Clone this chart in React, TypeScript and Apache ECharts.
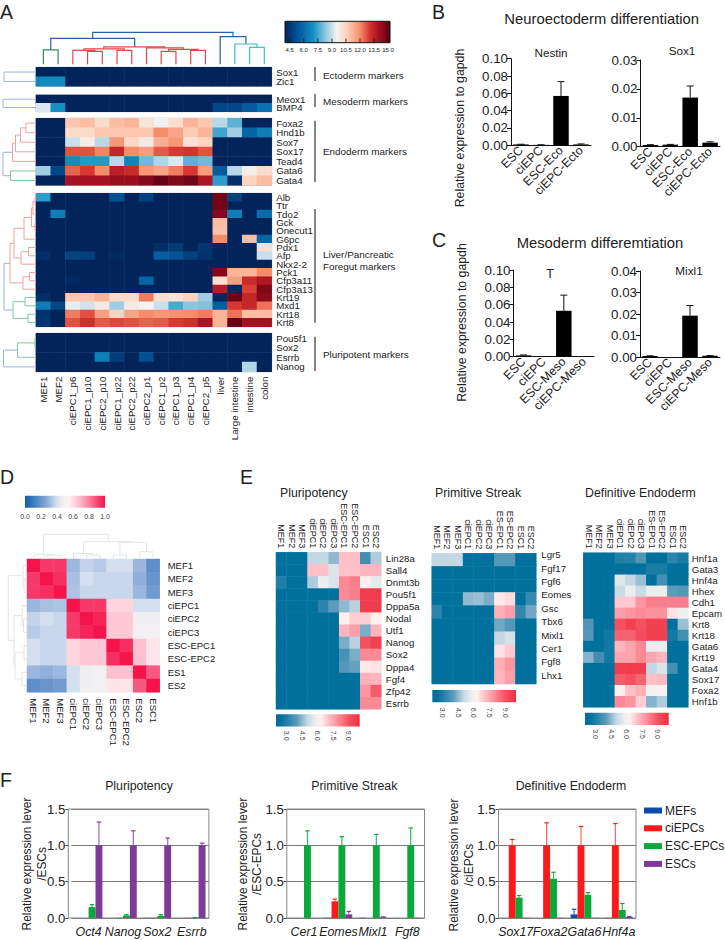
import React, { useEffect, useRef } from "react";
import * as echarts from "echarts";

// ---------- Panel A data ----------
const aColumns = ["MEF1","MEF2","ciEPC1_p6","ciEPC1_p10","ciEPC2_p10","ciEPC1_p22","ciEPC2_p22","ciEPC2_p1","ciEPC1_p2","ciEPC1_p3","ciEPC1_p4","ciEPC2_p5","liver","Large intestine","intestine","colon"];
const aEctoRows = ["Sox1","Zic1"];
const aEctoValues = [
  [4,4,4,4,4,4,4,4,4,4,4,4,4,4,4,4],
  [6.8,6.8,4,4,4,4,4,4,4,4,4,4,4,4,4,4],
];
const aMesoRows = ["Meox1","BMP4"];
const aMesoValues = [
  [4,4,4,4,4,4,4,4,4,4,4,4,4,4,4,4],
  [9.2,7,4,4,4,4,4,4,4,4,4,4,5,5,5.5,6.2],
];
const aEndoRows = ["Foxa2","Hnd1b","Sox7","Sox17","Tead4","Gata6","Gata4"];
const aEndoValues = [
  [4,4,10.8,11,10.3,11,11.2,10,9.5,10.2,11.2,10.8,8.8,7.8,4,4],
  [4,4,10.3,10.3,10.8,10.8,10.8,10.8,12,11.5,10.7,11.2,7.5,8.5,5.8,6.5],
  [4,4,9,9.7,8.8,11.8,10.4,9.8,11.3,11.8,10.1,10.5,4,4,4,4],
  [4,4,12.7,12.7,12.1,13.4,12,11.7,12.6,13,13.1,12.7,4,4,4,4],
  [4,4,6.9,7.2,7.2,8.8,6.7,8,8.7,9.2,7.8,8,4,4,4,4],
  [8.5,5,12.5,13,12,13.6,13.3,11.8,11.5,12.2,13,11.7,5.5,8.8,9.7,10.3],
  [4,4,14,14,14,14.2,14.2,14.5,15,14.6,14.8,13.9,7.3,4.3,10.5,11],
];
const aLiverRows = ["Alb","Ttr","Tdo2","Gck","Onecut1","G6pc","Pdx1","Afp","Nkx2-2","Pck1","Cfp3a11","Cfp3a13","Krt19","Mxd1","Krt18","Krt8"];
const aLiverValues = [
  [7.3,4,4,4,4,5.2,4,4.8,4,4,4,4,14.8,4.8,4,4],
  [4,4,4,4,4,4,4,4,4,4,4,4,14.8,4,4,4],
  [4,6.5,4,4,4,4,4,4,4,4,4,4,14.5,6.5,4,6],
  [4,4,4,4,4,4,4,4,4,4,4,4,11,4,4,4],
  [4,4,4,4,4,4,4,4,4,4,4,4,10.9,4,4,4],
  [4,4,4,4,4,4,4,4,4,4,4,4,12,4,11,5.8],
  [4,4,4,4,4,4,4,4,4.3,4.6,4,4.5,4,4,4,10.2],
  [4.3,4,4.9,4.8,4,4.2,4,4,5.6,5.3,4.8,4.4,4,4,4,9],
  [4,4,4,4,4,4,4,4,4,4,4,4,4,4,4,4],
  [4,4,4,4,4,4,4,4,4,4,4,4,14.5,11.2,11.2,12],
  [4,4,4.2,4,4,4,4,5.8,4,4,4,4,10.2,11.6,13.3,13.8],
  [4,4,4,4,4,4,4,4,4,4,4,4,13.7,4.1,12.9,14.6],
  [4.3,4,10.8,10.8,11.2,10.3,10.3,12.2,10.2,10,10.5,8.5,4.1,14.9,13.4,14.4],
  [6.5,5,9.4,9.1,9.8,8.5,9.8,9.5,9,7.6,8.3,8.2,5.6,13,13.4,12.3],
  [4.4,4,12.2,12.7,11.6,10.5,11.5,12,11.8,11.9,12,12.2,11.2,12.3,11,11],
  [4.5,4,12.7,13.2,12.6,12.8,12.7,12.5,12.6,13,13.2,13.9,11.2,15,14,14],
];
const aPluriRows = ["Pou5f1","Sox2","Esrrb","Nanog"];
const aPluriValues = [
  [4,4,4,4,4,4,4,4,4,4,4,4,4,4,4,4],
  [4,4,4,4,4,4,4,4,4,4,4,4,4,4,4,4],
  [4,4,4,4,6.5,4.7,4,5.2,4,4,4,4,4,4,4,4],
  [4,4,4,4,4,4,4,4,4,4,4,4,4,4,8.7,4],
];
const aColorTicks = [4.5,6,7.5,9,10.5,12,13.5,15];

// dendrogram links: [leg a, leg b, height a, height b, top]
const aTopGreen = [[0.5,1.5,0,0,14.5]];
const aTopRed = [[3.5,4.5,0,0,13],[2.5,4,0,13,14],[5.5,6.5,0,0,14],[3.25,6,14,14,15.5],[8.5,9.5,0,0,13],[10.5,11.5,0,0,14],[9,11,13,14,15],[7.5,10,0,15,16.5],[4.6,8.75,15.5,16.5,17.5]];
const aTopBlue = [[1,6.7,14.5,17.5,26],[12.5,14.25,0,20.3,27.7],[3.85,13.37,26,27.7,32]];
const aTopTeal = [[14.5,15.5,0,0,17],[13.5,15,0,17,20.3]];
const aLeftEcto = [[0.5,1.5,0,0,32]];
const aLeftMeso = [[0.5,1.5,0,0,33]];
const aLeftEndoPink = [[0.5,1.5,0,0,10],[1,2.5,10,0,15.5],[1.75,3.5,15.5,0,20.5],[2.6,4.5,20.5,0,23.5]];
const aLeftEndoGreen = [[5.5,6.5,0,0,25.5]];
const aLeftEndoBlue = [[3.55,6,23.5,25.5,33]];
const aLeftLiverPink = [[0.5,1.5,0,0,1],[1,2.5,1,0,3],[3.5,4.5,0,0,1],[1.75,4,3,1,4.5],[2.9,5.5,4.5,0,12],[6.5,7.5,0,0,7.5],[7,8.5,7.5,0,15],[4.2,7.75,12,15,22],[9.5,10.5,0,0,6.5],[10,11.5,6.5,0,13],[6,10.75,22,13,26]];
const aLeftLiverGreen = [[12.5,13.5,0,0,11],[14.5,15.5,0,0,8],[13,15,11,8,23]];
const aLeftLiverBlue = [[8.4,14,26,23,32]];
const aLeftPluriGreen = [[0.5,1.5,0,0,1],[1,2.5,1,0,18.5]];
const aLeftPluriBlue = [[1.75,3.5,18.5,0,32.5]];

// ---------- Panel B / C data ----------
const bLabels = ["ESC","ciEPC","ESC-Eco","ciEPC-Ecto"];
const nestinValues = [0.001,0.0005,0.057,0.001];
const nestinErrTop = [0.0012,0.0006,0.0735,0.0016];
const bSox1Values = [0.0006,0.0007,0.017,0.0014];
const bSox1ErrTop = [0.0007,0.0008,0.021,0.0017];
const cLabels = ["ESC","ciEPC","ESC-Meso","ciEPC-Meso"];
const tValues = [0.0015,0,0.053,0];
const tErrTop = [0.002,0,0.071,0];
const mixl1Values = [0.0006,0,0.0193,0.0007];
const mixl1ErrTop = [0.0007,0,0.024,0.0008];

// ---------- Panel D data ----------
const dColumns = ["MEF1","MEF2","MEF3","ciEPC1","ciEPC2","ciEPC3","ESC-EPC1","ESC-EPC2","ESC2","ESC1"];
const dRows = ["MEF1","MEF2","MEF3","ciEPC1","ciEPC2","ciEPC3","ESC-EPC1","ESC-EPC2","ES1","ES2"];
const dValues = [
  [1,.93,.93,.3,.37,.35,.4,.4,.3,.18],
  [.93,1,.95,.32,.4,.38,.38,.38,.28,.2],
  [.93,.95,1,.33,.38,.38,.38,.38,.3,.22],
  [.3,.32,.33,1,.93,.93,.62,.62,.4,.4],
  [.37,.4,.38,.93,1,.97,.65,.65,.47,.47],
  [.35,.38,.38,.93,.97,1,.65,.65,.48,.48],
  [.4,.38,.38,.62,.65,.65,1,.95,.67,.58],
  [.4,.38,.38,.62,.65,.65,.95,1,.67,.58],
  [.3,.28,.3,.4,.47,.48,.67,.67,1,.87],
  [.18,.2,.22,.4,.47,.48,.58,.58,.87,1],
];
const dColorTicks = [0,0.2,0.4,0.6,0.8,1];
const dTopLinks = [[1.5,2.5,0,0,3.7],[0.5,2,0,3.7,4.2],[4.5,5.5,0,0,4],[3.5,5,0,4,5.5],[6.5,7.5,0,0,4],[8.5,9.5,0,0,7.3],[7,9,4,7.3,16.7],[4.25,8,5.5,16.7,17.3],[1.25,6.12,4.2,17.3,24.7]];
const dLeftLinks = [[1.5,2.5,0,0,3],[0.5,2,0,3,4],[4.5,5.5,0,0,3.5],[3.5,5,0,3.5,5],[6.5,7.5,0,0,3],[8.5,9.5,0,0,5],[7,9,3,5,12],[4.25,8,5,12,13],[1.25,6.1,4,13,18.7]];

// ---------- Panel E data ----------
const B = 2.5;
const ePluriColumns = ["MEF1","MEF2","MEF3","ciEPC1","ciEPC2","ciEPC3","ESC-EPC1","ESC-EPC2","ESC1","ESC2"];
const ePluriRows = ["Lin28a","Sall4","Dnmt3b","Pou5f1","Dppa5a","Nodal","Utf1","Nanog","Sox2","Dppa4","Fgf4","Zfp42","Esrrb"];
const ePluriValues = [
  [B,B,B,5,5,4.5,7,7,3.6,4.8],
  [B,B,B,7,7,5.4,7,7,7.2,7.2],
  [3,B,B,4.8,5.7,5.4,8,8.2,6.3,5.6],
  [B,B,B,B,B,B,8,8.2,9.6,9.6],
  [B,B,B,B,3.2,4,4.5,4.9,9.6,9.6],
  [B,B,B,B,B,B,6.3,6.8,6.8,6.3],
  [B,B,B,B,B,B,7.2,7.6,4.3,7.2],
  [B,B,B,B,B,B,4.3,4.9,9,9.5],
  [B,B,B,B,B,B,3.7,4.3,8,8],
  [B,B,B,B,B,B,3.9,4.1,6.4,6.5],
  [B,B,B,B,B,B,B,B,7.3,7.2],
  [B,B,B,B,B,B,B,B,7.8,8.8],
  [B,B,B,B,B,B,B,B,8,8],
];
const eStreakColumns = ["MEF1","MEF2","MEF3","ciEPC1","ciEPC2","ciEPC3","ES-EPC1","ES-EPC2","ESC1","ESC2"];
const eStreakRows = ["Lgr5","Fgf17","Fgf6","Eomes","Gsc","Tbx6","Mixl1","Cer1","Fgf8","Lhx1"];
const eStreakValues = [
  [5,5,5,B,B,B,3.9,3.9,B,B],
  [B,B,B,B,B,B,B,B,B,B],
  [B,B,B,B,B,B,B,B,B,B],
  [B,B,B,4.5,4.6,4.3,6.4,6.6,B,3.4],
  [3.2,B,B,B,B,B,7.3,7.6,3.3,4.2],
  [B,B,B,B,B,B,4.2,3.9,B,B],
  [B,B,B,B,B,B,5,5.3,B,B],
  [B,B,B,B,B,B,6.5,6.9,B,B],
  [B,B,B,B,B,B,7.3,7.8,B,B],
  [B,B,B,B,B,B,7.2,7.6,B,B],
];
const eEndoRows = ["Hnf1a","Gata3","Hnf4a","Hhex","Cdh1","Epcam","Krt8","Krt18","Gata6","Krt19","Gata4","Sox17","Foxa2","Hnf1b"];
const eEndoValues = [
  [B,B,B,3,3.1,3.8,B,B,3.2,2.9],
  [B,B,B,B,B,B,2.9,2.9,B,B],
  [B,B,B,5.5,5,4.6,B,3.6,B,B],
  [B,B,B,5.1,5.7,5.1,5.7,5.7,4,3.9],
  [B,B,B,6.9,6.9,7.8,8.2,8.2,8.2,8.2],
  [B,B,B,7.6,7.8,8,7.9,7.9,6.5,5.8],
  [3.8,B,B,9,9.5,9,9.5,9.5,B,4.6],
  [3.9,B,2.8,8.7,8.7,9.1,9.5,9.5,2.8,3.6],
  [B,B,2.8,7.2,7.5,8,5.7,5.7,B,B],
  [4.4,3.6,2.8,7.5,7.5,8,7.5,7.2,B,B],
  [B,B,B,9.6,9.6,9.6,5,5.4,3.6,B],
  [B,B,B,8.8,9,8.7,7,7.1,B,B],
  [B,B,B,6.3,7,7.3,5.9,6.2,B,B],
  [B,B,B,8,7.8,6.8,4.4,4.8,B,B],
];
const eColorTicks = [3,4.5,6,7.5,9];

// ---------- Panel F data ----------
const fGroups = ["MEFs","ciEPCs","ESC-EPCs","ESCs"];
const fPluriGenes = ["Oct4","Nanog","Sox2","Esrrb"];
const fPluriMEF = [0,0,0.002,0];
const fPluriCi = [0,0.003,0.003,0.003];
const fPluriEPC = [0.15,0.035,0.03,0.005];
const fPluriESC = [1,1,1,1];
const fPluriEPCTop = [0.185,0.045,0.045,0.006];
const fPluriESCTop = [1.32,1.2,1.1,1.03];
const fStreakGenes = ["Cer1","Eomes","Mixl1","Fgf8"];
const fStreakMEF = [0,0.003,0.003,0];
const fStreakCi = [0,0.23,0,0];
const fStreakEPC = [1,1,1,1];
const fStreakESC = [0,0.05,0.01,0.003];
const fStreakCiTop = [0,0.26,0,0];
const fStreakEPCTop = [1.2,1.12,1.15,1.24];
const fStreakESCTop = [0,0.09,0.015,0.003];
const fEndoGenes = ["Sox17","Foxa2","Gata6","Hnf4a"];
const fEndoMEF = [0,0,0.05,0.003];
const fEndoCi = [1,1,1,1];
const fEndoEPC = [0.28,0.54,0.32,0.11];
const fEndoESC = [0.003,0.003,0.003,0.015];
const fEndoMEFTop = [0,0,0.12,0.003];
const fEndoCiTop = [1.08,1.31,1.26,1.3];
const fEndoEPCTop = [0.31,0.63,0.35,0.2];
const fEndoESCTop = [0.003,0.003,0.003,0.02];

// ---------- colours ----------
const FONT = "'Liberation Sans', Arial, sans-serif";
const INK = "#222";
const fColors = ["#0c4ca8", "#fb1a1a", "#0ba83c", "#7e3a98"];
const fErrColors = ["#3a6cc0", "#f56a60", "#35b860", "#a868bc"];
const aStops: [number,string][] = [[4,"#02245a"],[5.5,"#045a9c"],[7,"#1190c4"],[8.5,"#9fcde3"],[9.5,"#f2f2f2"],[10.5,"#fdd5c0"],[12,"#f68d6a"],[13,"#d8362f"],[14,"#a51022"],[15.2,"#5a0010"]];
const dStops: [number,string][] = [[0,"#0d5dac"],[0.25,"#7fa3d3"],[0.4,"#d5dff0"],[0.47,"#f0f0f2"],[0.55,"#fff0f3"],[0.7,"#fdb4c8"],[1,"#f5134c"]];
const eStops: [number,string][] = [[2,"#00719d"],[2.5,"#00719d"],[4,"#5b9abb"],[5,"#c4d8e4"],[5.8,"#f0f0f0"],[6.3,"#fff0f0"],[7,"#ffc0c8"],[8,"#fb8a96"],[9,"#f4505f"],[10,"#ee3040"]];

function hexToRgb(h: string) { return [1,3,5].map((i) => parseInt(h.slice(i, i + 2), 16)); }
function ramp(stops: [number,string][], n = 64) {
  const lo = stops[0][0], hi = stops[stops.length - 1][0];
  const out: string[] = [];
  for (let i = 0; i < n; i++) {
    const v = lo + ((hi - lo) * i) / (n - 1);
    let k = 0;
    while (k < stops.length - 2 && v > stops[k + 1][0]) k++;
    const t = (v - stops[k][0]) / (stops[k + 1][0] - stops[k][0]);
    const a = hexToRgb(stops[k][1]), b = hexToRgb(stops[k + 1][1]);
    out.push("rgb(" + a.map((c, j) => Math.round(c + (b[j] - c) * t)).join(",") + ")");
  }
  return out;
}
function gradient(stops: [number,string][]) {
  const lo = stops[0][0], hi = stops[stops.length - 1][0];
  return { type: "linear", x: 0, y: 0, x2: 1, y2: 0, colorStops: stops.map(([v, c]) => ({ offset: (v - lo) / (hi - lo), color: c })) };
}

function buildOption() {
  const grid: any[] = [], xAxis: any[] = [], yAxis: any[] = [], series: any[] = [], elements: any[] = [];
  const vmSeries: number[][] = [[], [], []];

  const txt = (text: string, x: number, y: number, size: number, o: any = {}) =>
    elements.push({ type: "text", x, y, rotation: o.rotation || 0, silent: true, z: 10,
      style: { text, fontSize: size, fontFamily: FONT, fill: o.fill || INK, align: o.align || "left", verticalAlign: "middle", fontStyle: o.fontStyle || "normal" } });
  const line = (x1: number, y1: number, x2: number, y2: number, color = "#222", w = 1) =>
    elements.push({ type: "line", silent: true, z: 10, shape: { x1, y1, x2, y2 }, style: { stroke: color, lineWidth: w } });
  const newGrid = (g: any) => { grid.push(g); return grid.length - 1; };

  function heat(o: { x0: number; x1: number; y0: number; y1: number; cols: string[]; rows: string[]; values: number[][]; vm: number;
    rowFont: number; colFont?: number; colPos?: string; colRotate?: number; colMargin?: number; showCols?: boolean; border?: string; rowMargin?: number; labelY0?: number; labelY1?: number; }) {
    const gi = newGrid({ left: o.x0, top: o.y0, width: o.x1 - o.x0, height: o.y1 - o.y0, show: !!o.border, borderColor: o.border || "transparent", borderWidth: o.border ? 1 : 0, backgroundColor: "transparent" });
    xAxis.push({ gridIndex: gi, type: "category", data: o.cols, position: o.colPos || "bottom", axisLine: { show: false }, axisTick: { show: false }, splitLine: { show: false },
      axisLabel: { show: !!o.showCols, rotate: o.colRotate ?? 90, interval: 0, fontSize: o.colFont || 9, fontFamily: FONT, color: INK, margin: o.colMargin ?? 5 } });
    const sepLabels = o.labelY0 !== undefined;
    const rowAxisLabel = { interval: 0, fontSize: o.rowFont, fontFamily: FONT, color: INK, margin: o.rowMargin ?? 4.5, align: "left" };
    yAxis.push({ gridIndex: gi, type: "category", data: o.rows, inverse: true, position: "right", axisLine: { show: false }, axisTick: { show: false }, splitLine: { show: false },
      axisLabel: sepLabels ? { show: false } : rowAxisLabel });
    const data: number[][] = [];
    o.values.forEach((row, r) => row.forEach((v, c) => data.push([c, r, v])));
    vmSeries[o.vm].push(series.length);
    series.push({ type: "heatmap", xAxisIndex: gi, yAxisIndex: gi, data, itemStyle: { borderWidth: 0 }, emphasis: { disabled: true }, progressive: 0 });
    if (sepLabels) {
      const gl = newGrid({ left: o.x0, top: o.labelY0, width: o.x1 - o.x0, height: o.labelY1! - o.labelY0!, show: false });
      xAxis.push({ gridIndex: gl, type: "category", data: o.cols, show: false });
      yAxis.push({ gridIndex: gl, type: "category", data: o.rows, inverse: true, position: "right", axisLine: { show: false }, axisTick: { show: false }, splitLine: { show: false }, axisLabel: rowAxisLabel });
    }
  }

  function linkRender(color: string, horizontal: boolean, w: number) {
    return (_p: any, api: any) => {
      const a = api.value(0), b = api.value(1), ha = api.value(2), hb = api.value(3), t = api.value(4);
      const pts = horizontal ? [[ha, a], [t, a], [t, b], [hb, b]] : [[a, ha], [a, t], [b, t], [b, hb]];
      return { type: "polyline", shape: { points: pts.map((p) => api.coord(p)) }, style: { stroke: color, fill: "none", lineWidth: w } };
    };
  }
  function dendro(o: { x0: number; x1: number; y0: number; y1: number; horizontal: boolean; units: number; depth: number; sets: [number[][], string][]; w?: number }) {
    const gi = newGrid({ left: o.x0, top: o.y0, width: o.x1 - o.x0, height: o.y1 - o.y0, show: false });
    if (o.horizontal) {
      xAxis.push({ gridIndex: gi, type: "value", show: false, min: 0, max: o.depth, inverse: true });
      yAxis.push({ gridIndex: gi, type: "value", show: false, min: 0, max: o.units, inverse: true });
    } else {
      xAxis.push({ gridIndex: gi, type: "value", show: false, min: 0, max: o.units });
      yAxis.push({ gridIndex: gi, type: "value", show: false, min: 0, max: o.depth });
    }
    o.sets.forEach(([links, color]) => series.push({ type: "custom", xAxisIndex: gi, yAxisIndex: gi, silent: true, clip: false,
      encode: o.horizontal ? { x: 2, y: 0 } : { x: 0, y: 2 }, data: links, renderItem: linkRender(color, o.horizontal, o.w ?? 1.2) }));
  }

  function errorSeries(gi: number, values: number[], tops: number[], offset: number, color: string, cap: number, capColor: string, w: number) {
    const data = values.map((v, i) => [i, v, tops[i]]).filter((d) => d[2] > d[1]);
    series.push({ type: "custom", xAxisIndex: gi, yAxisIndex: gi, silent: true, encode: { x: 0, y: [1, 2] }, data,
      renderItem: (_p: any, api: any) => {
        const c0 = api.coord([api.value(0), api.value(1)]);
        const c1 = api.coord([api.value(0), api.value(2)]);
        const x = c0[0] + offset;
        return { type: "group", children: [
          { type: "line", shape: { x1: x, y1: c0[1], x2: x, y2: c1[1] }, style: { stroke: color, lineWidth: w } },
          { type: "line", shape: { x1: x - cap, y1: c1[1], x2: x + cap, y2: c1[1] }, style: { stroke: capColor, lineWidth: w } },
        ] };
      } });
  }

  function blackBars(o: { x0: number; x1: number; y0: number; y1: number; labels: string[]; values: number[]; tops: number[]; max: number; interval: number; digits: number }) {
    const gi = newGrid({ left: o.x0, top: o.y0, width: o.x1 - o.x0, height: o.y1 - o.y0, show: false });
    xAxis.push({ gridIndex: gi, type: "category", data: o.labels, axisLine: { lineStyle: { color: "#111", width: 1 } }, axisTick: { alignWithLabel: true, length: 3, lineStyle: { color: "#111" } },
      axisLabel: { rotate: 45, interval: 0, fontSize: 12.3, fontFamily: FONT, color: INK, margin: 3 } });
    yAxis.push({ gridIndex: gi, type: "value", min: 0, max: o.max, interval: o.interval, splitLine: { show: false }, axisLine: { show: true, lineStyle: { color: "#111" } }, axisTick: { show: true, length: 4, lineStyle: { color: "#111" } },
      axisLabel: { fontSize: 13.3, fontFamily: FONT, color: INK, margin: 3, formatter: (v: number) => v.toFixed(o.digits) } });
    series.push({ type: "bar", xAxisIndex: gi, yAxisIndex: gi, data: o.values, barWidth: 15.5, itemStyle: { color: "#000" } });
    errorSeries(gi, o.values, o.tops, 0, "#111", 3.5, "#111", 1);
  }

  function groupedBars(o: { x0: number; x1: number; y0: number; y1: number; box0: number; genes: string[]; groups: number[][]; tops: (number[] | null)[]; }) {
    const gi = newGrid({ left: o.x0, top: o.y0, width: o.x1 - o.x0, height: o.y1 - o.y0, show: false });
    xAxis.push({ gridIndex: gi, type: "category", data: o.genes, axisLine: { show: false }, axisTick: { alignWithLabel: true, length: 3, lineStyle: { color: "#444" } },
      axisLabel: { interval: 0, fontSize: 12.4, fontStyle: "italic", fontFamily: FONT, color: INK, margin: 8 } });
    yAxis.push({ gridIndex: gi, type: "value", min: 0, max: 1.5, interval: 0.5, offset: o.x0 - o.box0, axisLine: { show: false }, axisTick: { show: true, length: 3, lineStyle: { color: "#444" } },
      splitLine: { show: true, lineStyle: { color: "#777", width: 1 } },
      axisLabel: { fontSize: 13.2, fontFamily: FONT, color: INK, margin: 3, formatter: (v: number) => v.toFixed(1) } });
    o.groups.forEach((vals, k) => series.push({ type: "bar", name: fGroups[k], xAxisIndex: gi, yAxisIndex: gi, data: vals, barWidth: 6.9, barGap: 0, itemStyle: { color: fColors[k] } }));
    o.tops.forEach((t, k) => { if (t) errorSeries(gi, o.groups[k], t, (k - 1.5) * 6.9, fErrColors[k], 2.2, fColors[k], 1.2); });
    elements.push({ type: "rect", silent: true, z: 1, shape: { x: o.box0, y: o.y0, width: o.x1 - o.box0, height: o.y1 - o.y0 }, style: { fill: "none", stroke: "#888", lineWidth: 1 } });
  }

  // ---------- A ----------
  const ax0 = 36, ax1 = 271.7;
  heat({ x0: ax0, x1: ax1, y0: 67.3, y1: 86.3, cols: aColumns, rows: aEctoRows, values: aEctoValues, vm: 0, rowFont: 9.7, border: "#aab" });
  heat({ x0: ax0, x1: ax1, y0: 95, y1: 111.7, cols: aColumns, rows: aMesoRows, values: aMesoValues, vm: 0, rowFont: 9.7, border: "#aab" });
  heat({ x0: ax0, x1: ax1, y0: 118.3, y1: 185.3, cols: aColumns, rows: aEndoRows, values: aEndoValues, vm: 0, rowFont: 9.7, border: "#aab" });
  heat({ x0: ax0, x1: ax1, y0: 193.3, y1: 326.7, cols: aColumns, rows: aLiverRows, values: aLiverValues, vm: 0, rowFont: 9.7, border: "#aab" });
  heat({ x0: ax0, x1: ax1, y0: 333.3, y1: 371.7, cols: aColumns, rows: aPluriRows, values: aPluriValues, vm: 0, rowFont: 9.7, border: "#aab", showCols: true, colFont: 9.7, colRotate: 90, colMargin: 5 });
  dendro({ x0: ax0, x1: ax1, y0: 14.3, y1: 64.3, horizontal: false, units: 16, depth: 50, sets: [[aTopGreen, "#2e8b57"], [aTopRed, "#e0494a"], [aTopBlue, "#2f5fa8"], [aTopTeal, "#3cc4c0"]] });
  const blue = "#9ab2de", pink = "#f2a0a0", mint = "#7fc8a0";
  dendro({ x0: 2, x1: 36, y0: 67.3, y1: 86.3, horizontal: true, units: 2, depth: 34, sets: [[aLeftEcto, blue]], w: 1 });
  dendro({ x0: 2, x1: 36, y0: 95, y1: 111.7, horizontal: true, units: 2, depth: 34, sets: [[aLeftMeso, blue]], w: 1 });
  dendro({ x0: 2, x1: 36, y0: 118.3, y1: 185.3, horizontal: true, units: 7, depth: 34, sets: [[aLeftEndoPink, pink], [aLeftEndoGreen, mint], [aLeftEndoBlue, blue]], w: 1 });
  dendro({ x0: 2, x1: 36, y0: 193.3, y1: 326.7, horizontal: true, units: 16, depth: 34, sets: [[aLeftLiverPink, pink], [aLeftLiverGreen, mint], [aLeftLiverBlue, blue]], w: 1 });
  dendro({ x0: 2, x1: 36, y0: 333.3, y1: 371.7, horizontal: true, units: 4, depth: 34, sets: [[aLeftPluriGreen, mint], [aLeftPluriBlue, blue]], w: 1 });

  txt("A", 0, 11.5, 19.5);
  elements.push({ type: "rect", silent: true, shape: { x: 285, y: 21.3, width: 105, height: 21.4 }, style: { fill: gradient(aStops), stroke: "#111", lineWidth: 1 } });
  aColorTicks.forEach((v) => {
    const x = 285 + ((v - 4) * 105) / 11.2;
    line(x, 38.5, x, 42.7, "#111", 0.8);
    txt(v.toFixed(1), x, 50.3, 6, { align: "center" });
  });
  const markers: [number, number, string[], number[]][] = [
    [67, 81, ["Ectoderm markers"], [75]],
    [94, 107, ["Mesoderm markers"], [101]],
    [120.7, 182, ["Endoderm markers"], [151]],
    [209, 322.7, ["Liver/Pancreatic", "Foregut markers"], [254.5, 266]],
    [336.7, 371, ["Pluripotent markers"], [354]],
  ];
  markers.forEach(([a, b, texts, ys]) => {
    line(315, a, 315, b, "#222", 1.1);
    texts.forEach((t, i) => txt(t, 323, ys[i], 9.9));
  });

  // ---------- B ----------
  txt("B", 432, 11.5, 19.5);
  txt("Neuroectoderm differentiation", 601.7, 19, 14.8, { align: "center" });
  txt("Relative expression to gapdh", 460, 128, 12.3, { align: "center", rotation: Math.PI / 2 });
  blackBars({ x0: 511, x1: 591, y0: 58.7, y1: 145.3, labels: bLabels, values: nestinValues, tops: nestinErrTop, max: 0.1, interval: 0.02, digits: 2 });
  txt("Nestin", 551, 52, 11.7, { align: "center" });
  blackBars({ x0: 640.5, x1: 720, y0: 60, y1: 146.7, labels: bLabels, values: bSox1Values, tops: bSox1ErrTop, max: 0.03, interval: 0.01, digits: 2 });
  txt("Sox1", 682, 50.7, 11.7, { align: "center" });

  // ---------- C ----------
  txt("C", 432, 240, 19.5);
  txt("Mesoderm differemtiation", 600, 243, 14.8, { align: "center" });
  txt("Relative expression to gapdh", 462, 322.5, 12.3, { align: "center", rotation: Math.PI / 2 });
  blackBars({ x0: 513.5, x1: 594, y0: 270, y1: 356.7, labels: cLabels, values: tValues, tops: tErrTop, max: 0.1, interval: 0.02, digits: 2 });
  txt("T", 550, 274, 12.5, { align: "center" });
  blackBars({ x0: 640, x1: 720, y0: 271, y1: 357.3, labels: cLabels, values: mixl1Values, tops: mixl1ErrTop, max: 0.04, interval: 0.01, digits: 2 });
  txt("Mixl1", 689, 270.7, 11.7, { align: "center" });

  // ---------- D ----------
  txt("D", 0, 477, 19.5);
  elements.push({ type: "rect", silent: true, shape: { x: 25, y: 495.7, width: 80, height: 12 }, style: { fill: gradient(dStops) } });
  dColorTicks.forEach((v) => txt(v.toFixed(1), 25 + v * 80, 516, 7, { align: "center", fill: "#444" }));
  heat({ x0: 27, x1: 159.7, y0: 559, y1: 692.3, cols: dColumns, rows: dRows, values: dValues, vm: 1, rowFont: 9.5, showCols: true, colFont: 9.5, colRotate: -90, colMargin: 6, rowMargin: 8 });
  dendro({ x0: 27, x1: 159.7, y0: 530, y1: 559, horizontal: false, units: 10, depth: 29, sets: [[dTopLinks, "#e4e4e4"]], w: 1 });
  dendro({ x0: 6, x1: 27, y0: 559, y1: 692.3, horizontal: true, units: 10, depth: 21, sets: [[dLeftLinks, "#e4e4e4"]], w: 1 });

  // ---------- E ----------
  txt("E", 240, 477, 19.5);
  txt("Pluripotency", 280, 493, 12.3);
  txt("Primitive Streak", 435, 493, 12.3);
  txt("Definitive Endoderm", 585, 493, 12.3);
  heat({ x0: 276, x1: 381.3, y0: 552.3, y1: 709.3, cols: ePluriColumns, rows: ePluriRows, values: ePluriValues, vm: 2, rowFont: 9.7, showCols: true, colFont: 9, colPos: "top", colRotate: 90, colMargin: 4 });
  heat({ x0: 431.7, x1: 536.3, y0: 553.3, y1: 684, cols: eStreakColumns, rows: eStreakRows, values: eStreakValues, vm: 2, rowFont: 9.7, showCols: true, colFont: 9, colPos: "top", colRotate: 90, colMargin: 4, labelY0: 548.3, labelY1: 681.7, rowMargin: 5 });
  heat({ x0: 583.3, x1: 688.7, y0: 552.7, y1: 707.3, cols: eStreakColumns, rows: eEndoRows, values: eEndoValues, vm: 2, rowFont: 9.7, showCols: true, colFont: 9, colPos: "top", colRotate: 90, colMargin: 4, rowMargin: 3.5 });
  const eBars: [number, number, number][] = [[276, 714.3, 735.7], [432.3, 690, 712.7], [585, 712.7, 734]];
  eBars.forEach(([x, y, ly]) => {
    elements.push({ type: "rect", silent: true, shape: { x, y, width: 83.7, height: 12.3 }, style: { fill: gradient(eStops) } });
    eColorTicks.forEach((v) => txt(v.toFixed(1), x + (v - 2) * 10.4, ly, 7, { align: "center", rotation: -Math.PI / 2, fill: "#444" }));
  });

  // ---------- F ----------
  txt("F", 0, 780, 19.5);
  txt("Pluripotency", 139, 785.7, 12.3, { align: "center" });
  txt("Primitive Streak", 354.3, 785.7, 12.3, { align: "center" });
  txt("Definitive Endoderm", 571, 785.7, 12.3, { align: "center" });
  txt("Relative expression lever", 26.7, 864, 11.9, { align: "center", rotation: Math.PI / 2 });
  txt("/ESCs", 41.7, 864, 11.9, { align: "center", rotation: Math.PI / 2 });
  txt("Relative expression lever", 243, 864, 11.9, { align: "center", rotation: Math.PI / 2 });
  txt("/ESC-EPCs", 257.3, 864, 11.9, { align: "center", rotation: Math.PI / 2 });
  txt("Relative expression lever", 454, 865, 11.9, { align: "center", rotation: Math.PI / 2 });
  txt("/ciEPCs", 469, 865, 11.9, { align: "center", rotation: Math.PI / 2 });
  groupedBars({ x0: 71.4, x1: 208.9, y0: 809, y1: 918, box0: 68.3, genes: fPluriGenes, groups: [fPluriMEF, fPluriCi, fPluriEPC, fPluriESC], tops: [null, null, fPluriEPCTop, fPluriESCTop] });
  groupedBars({ x0: 286.8, x1: 424.5, y0: 809, y1: 918, box0: 286.8, genes: fStreakGenes, groups: [fStreakMEF, fStreakCi, fStreakEPC, fStreakESC], tops: [null, fStreakCiTop, fStreakEPCTop, fStreakESCTop] });
  groupedBars({ x0: 498.5, x1: 636, y0: 809, y1: 918, box0: 498.5, genes: fEndoGenes, groups: [fEndoMEF, fEndoCi, fEndoEPC, fEndoESC], tops: [fEndoMEFTop, fEndoCiTop, fEndoEPCTop, fEndoESCTop] });

  return {
    animation: false,
    backgroundColor: "#fff",
    textStyle: { fontFamily: FONT },
    grid, xAxis, yAxis, series,
    visualMap: [
      { type: "continuous", show: false, min: 4, max: 15.2, dimension: 2, seriesIndex: vmSeries[0], inRange: { color: ramp(aStops) } },
      { type: "continuous", show: false, min: 0, max: 1, dimension: 2, seriesIndex: vmSeries[1], inRange: { color: ramp(dStops) } },
      { type: "continuous", show: false, min: 2, max: 10, dimension: 2, seriesIndex: vmSeries[2], inRange: { color: ramp(eStops) } },
    ],
    legend: { show: true, orient: "vertical", left: 644, top: 804.5, itemWidth: 18, itemHeight: 6, itemGap: 5.8, icon: "rect", selectedMode: false, data: fGroups,
      textStyle: { fontSize: 12, fontFamily: FONT, color: INK, padding: [0, 0, 0, -2] }, padding: 0 },
    graphic: { elements },
  };
}

export default function App() {
  const ref = useRef<HTMLDivElement>(null);
  useEffect(() => {
    document.body.style.margin = "0";
    const chart = echarts.init(ref.current!, undefined, { renderer: "svg" });
    chart.setOption(buildOption() as any);
    return () => chart.dispose();
  }, []);
  return <div ref={ref} style={{ width: 725, height: 940 }} />;
}
